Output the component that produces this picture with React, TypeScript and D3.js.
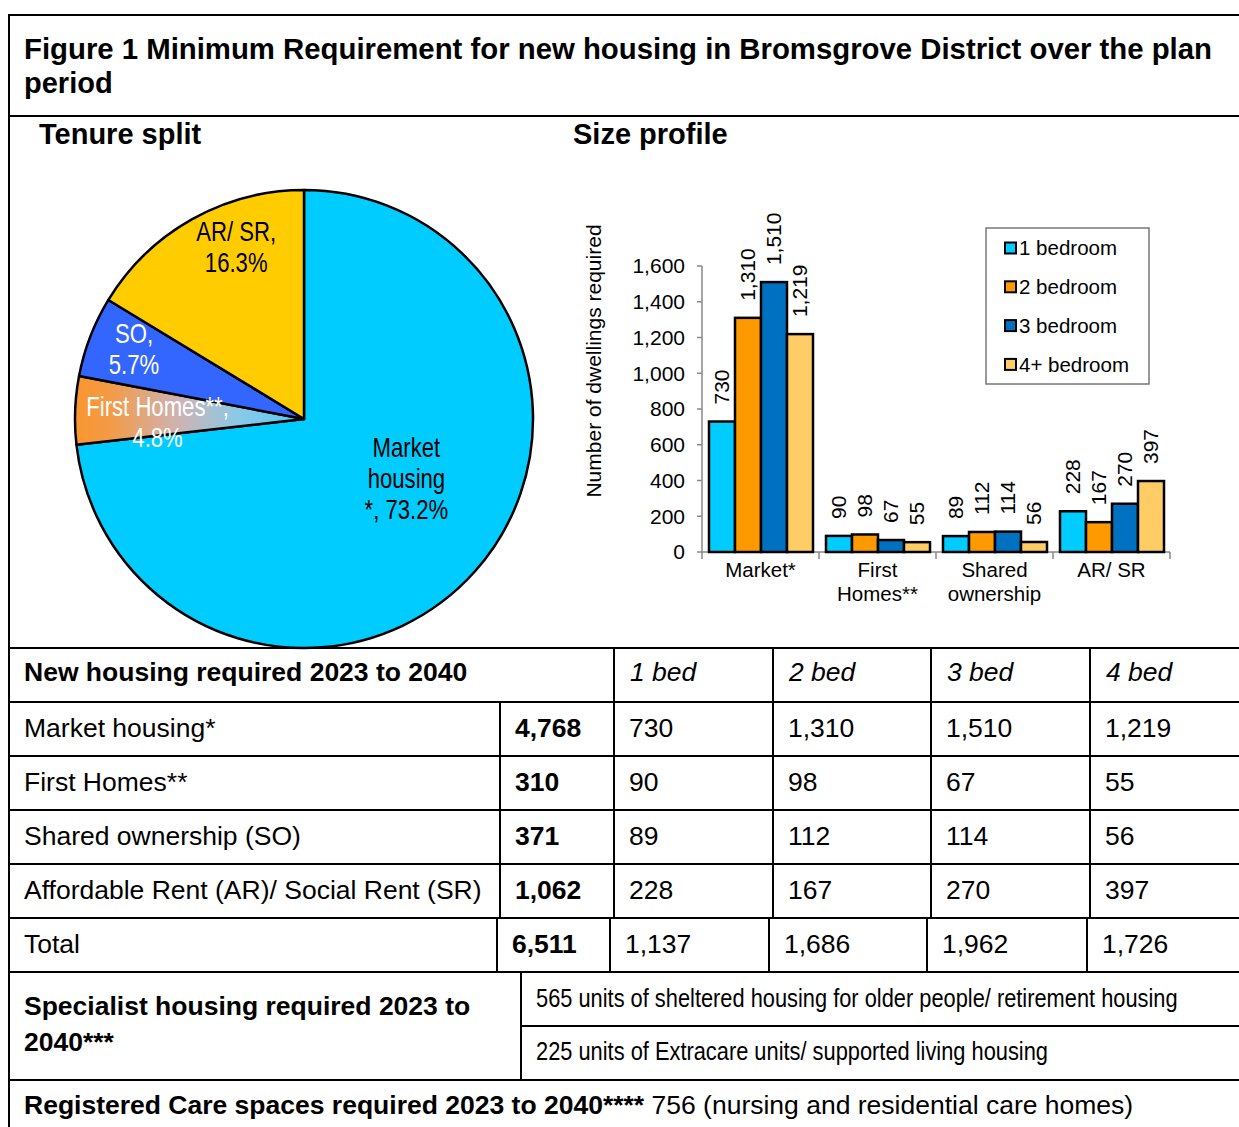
import React from "react";
import * as d3 from "d3";

// ---------- DATA ----------
const titleLine1 = "Figure 1 Minimum Requirement for new housing in Bromsgrove District over the plan";
const titleLine2 = "period";

const tenureNames = ["Market housing", "First Homes**", "SO", "AR/ SR"];
const tenureLabelLines = [["Market", "housing", "*, 73.2%"], ["First Homes**,", "4.8%"], ["SO,", "5.7%"], ["AR/ SR,", "16.3%"]];
const tenureShares = [73.2, 4.8, 5.7, 16.3];

const categories = ["Market*", "First Homes**", "Shared ownership", "AR/ SR"];
const categoryLines = [["Market*"], ["First", "Homes**"], ["Shared", "ownership"], ["AR/ SR"]];
const seriesNames = ["1 bedroom", "2 bedroom", "3 bedroom", "4+ bedroom"];
const oneBed = [730, 90, 89, 228];
const twoBed = [1310, 98, 112, 167];
const threeBed = [1510, 67, 114, 270];
const fourBed = [1219, 55, 56, 397];
const yTicks = [0, 200, 400, 600, 800, 1000, 1200, 1400, 1600];

const tableHeader = "New housing required 2023 to 2040";
const bedHeaders = ["1 bed", "2 bed", "3 bed", "4 bed"];
const rowLabels = ["Market housing*", "First Homes**", "Shared ownership (SO)", "Affordable Rent (AR)/ Social Rent (SR)"];
const rowTotals = ["4,768", "310", "371", "1,062"];
const rowValues = [
  ["730", "1,310", "1,510", "1,219"],
  ["90", "98", "67", "55"],
  ["89", "112", "114", "56"],
  ["228", "167", "270", "397"],
];
const totalLabel = "Total";
const grandTotal = "6,511";
const bedTotals = ["1,137", "1,686", "1,962", "1,726"];
const specialistLabel = ["Specialist housing required 2023 to", "2040***"];
const specialistItems = [
  "565 units of sheltered housing for older people/ retirement housing",
  "225 units of Extracare units/ supported living housing",
];
const careBold = "Registered Care spaces required 2023 to 2040****";
const careText = " 756 (nursing and residential care homes)";

// ---------- STYLE ----------
const W = 1239;
const H = 1127;
const FONT = "'Liberation Sans', Arial, sans-serif";
const pieColors = ["#00CCFF", "url(#fhGrad)", "#3366FF", "#FFCC00"];
const pieTextColors = ["#000", "#fff", "#fff", "#000"];
const barColors = ["#00CCFF", "#FF9900", "#0070C0", "#FFCC66"];

export default function App() {
  // Pie
  const cx = 304, cy = 419, R = 229;
  const pie = d3.pie<number>().sort(null).value((d) => d)(tenureShares);
  const arc = d3.arc<d3.PieArcDatum<number>>().innerRadius(0).outerRadius(R);
  const labelOffsets = [
    { r: 0.5, dx: 17, dy: -17 },
    { r: 0.64, dx: 0, dy: 9 },
    { r: 0.8, dx: 1, dy: -4 },
    { r: 0.8, dx: 22, dy: -12 },
  ];

  // Bars
  const series = [oneBed, twoBed, threeBed, fourBed];
  const x0 = d3.scaleBand<string>().domain(categories).range([702, 1170]).padding(0);
  const x1 = d3.scaleBand<string>().domain(seriesNames).range([7, x0.bandwidth() - 6]).padding(0);
  const y = d3.scaleLinear().domain([0, 1600]).range([552, 266]);

  // Table geometry
  const rowTops = [648, 702, 756, 810, 864, 918, 972];
  const colX = [614, 773, 931, 1090];
  const totalColX = [610, 769, 927, 1087];
  const fmt = d3.format(",");

  const line = (x1_: number, y1_: number, x2_: number, y2_: number, key: string) => (
    <line key={key} x1={x1_} y1={y1_} x2={x2_} y2={y2_} stroke="#000" strokeWidth={2} />
  );

  return (
    <div style={{ position: "absolute", left: 0, top: 0, width: W, height: H, background: "#fff" }}>
      <svg width={W} height={H} style={{ display: "block", fontFamily: FONT }}>
        <defs>
          <linearGradient id="fhGrad" gradientUnits="userSpaceOnUse" x1={-227} y1={0} x2={0} y2={0}>
            <stop offset="0" stopColor="#F99630" />
            <stop offset="0.14" stopColor="#F49A45" />
            <stop offset="0.45" stopColor="#CDB3B4" />
            <stop offset="0.72" stopColor="#88CAE8" />
            <stop offset="1" stopColor="#55C6F4" />
          </linearGradient>
        </defs>
        <rect x={0} y={0} width={W} height={H} fill="#fff" />

        {/* Frame */}
        {line(9, 15, W, 15, "top")}
        {line(9, 14, 9, H, "left")}
        {line(9, 116, W, 116, "titleDiv")}

        <text x={24} y={59} fontSize={29} fontWeight="bold" textLength={1188} lengthAdjust="spacingAndGlyphs">{titleLine1}</text>
        <text x={24} y={93} fontSize={29} fontWeight="bold">{titleLine2}</text>

        <text x={39} y={144} fontSize={29} fontWeight="bold">Tenure split</text>
        <text x={573} y={144} fontSize={29} fontWeight="bold">Size profile</text>

        {/* Pie */}
        <g transform={`translate(${cx},${cy})`}>
          {pie.map((p, i) => (
            <path key={tenureNames[i]} d={arc(p) || ""} fill={pieColors[i]} stroke="#000" strokeWidth={2.5} strokeLinejoin="round" />
          ))}
          {pie.map((p, i) => {
            const o = labelOffsets[i];
            const la = d3.arc<d3.PieArcDatum<number>>().innerRadius(R * o.r).outerRadius(R * o.r);
            const [lx, ly] = la.centroid(p);
            const lines = tenureLabelLines[i];
            const lh = 31;
            const startY = ly + o.dy - ((lines.length - 1) * lh) / 2;
            return (
              <g key={"lab" + i} transform={`translate(${lx + o.dx},${startY})`}>
                {lines.map((t, j) => (
                  <text key={j} x={0} y={j * lh} transform="scale(0.82,1)" textAnchor="middle" dy="0.35em" fontSize={27} fill={pieTextColors[i]}>
                    {t}
                  </text>
                ))}
              </g>
            );
          })}
        </g>

        {/* Bar chart */}
        <text transform="translate(594,361) rotate(-90)" textAnchor="middle" dy="0.35em" fontSize={21}>Number of dwellings required</text>
        <line x1={702} y1={y(1600)} x2={702} y2={y(0)} stroke="#888" strokeWidth={1.5} />
        {yTicks.map((t) => (
          <g key={"yt" + t}>
            <line x1={697} x2={702} y1={y(t)} y2={y(t)} stroke="#888" strokeWidth={1.5} />
            <text x={685} y={y(t)} dy="0.35em" textAnchor="end" fontSize={21}>{fmt(t)}</text>
          </g>
        ))}
        <line x1={702} y1={y(0)} x2={1170} y2={y(0)} stroke="#888" strokeWidth={1.5} />
        {[...categories.map((c) => x0(c) as number), 1170].map((xv, i) => (
          <line key={"ct" + i} x1={xv} x2={xv} y1={y(0)} y2={y(0) + 7} stroke="#888" strokeWidth={1.5} />
        ))}
        {categories.map((c, ci) => (
          <g key={c} transform={`translate(${x0(c)},0)`}>
            {seriesNames.map((s, si) => {
              const v = series[si][ci];
              const bx = x1(s) as number;
              const bw = x1.bandwidth();
              return (
                <g key={s}>
                  <rect x={bx} y={y(v)} width={bw} height={y(0) - y(v)} fill={barColors[si]} stroke="#000" strokeWidth={2.5} />
                  <text transform={`translate(${bx + bw / 2},${y(v) - 17}) rotate(-90)`} dy="0.35em" fontSize={21}>{fmt(v)}</text>
                </g>
              );
            })}
            {categoryLines[ci].map((t, j) => (
              <text key={j} x={x0.bandwidth() / 2} y={577 + j * 24} textAnchor="middle" fontSize={20.5}>{t}</text>
            ))}
          </g>
        ))}

        {/* Legend */}
        <rect x={986} y={228} width={163} height={156} fill="#fff" stroke="#777" strokeWidth={1.5} />
        {seriesNames.map((s, i) => {
          const ly = 248 + i * 38.8;
          return (
            <g key={"lg" + s}>
              <rect x={1005} y={ly - 5.5} width={11} height={11} fill={barColors[i]} stroke="#000" strokeWidth={2} />
              <text x={1019} y={ly} dy="0.35em" fontSize={20.5}>{s}</text>
            </g>
          );
        })}

        {/* Table */}
        {rowTops.map((t, i) => line(9, t, W, t, "h" + i))}
        {line(9, 1080, W, 1080, "h1080")}
        {line(521, 1026, W, 1026, "h1026")}
        {colX.map((xv, i) => line(xv, 648, xv, 918, "v" + i))}
        {line(500, 702, 500, 918, "vtot")}
        {line(497, 918, 497, 972, "vt0")}
        {totalColX.map((xv, i) => line(xv, 918, xv, 972, "vt" + (i + 1)))}
        {line(521, 972, 521, 1080, "vspec")}

        <text x={24} y={681} fontSize={26.5} fontWeight="bold">{tableHeader}</text>
        {bedHeaders.map((b, i) => (
          <text key={b} x={colX[i] + 16} y={681} fontSize={26.5} fontStyle="italic">{b}</text>
        ))}
        {rowLabels.map((lab, r) => {
          const by = rowTops[r + 1] + 35;
          return (
            <g key={lab}>
              <text x={24} y={by} fontSize={26.5}>{lab}</text>
              <text x={515} y={by} fontSize={26.5} fontWeight="bold">{rowTotals[r]}</text>
              {rowValues[r].map((v, c) => (
                <text key={c} x={colX[c] + 15} y={by} fontSize={26.5}>{v}</text>
              ))}
            </g>
          );
        })}
        <text x={24} y={953} fontSize={26.5}>{totalLabel}</text>
        <text x={512} y={953} fontSize={26.5} fontWeight="bold">{grandTotal}</text>
        {bedTotals.map((v, c) => (
          <text key={"bt" + c} x={totalColX[c] + 15} y={953} fontSize={26.5}>{v}</text>
        ))}

        <text x={24} y={1015} fontSize={26.5} fontWeight="bold">{specialistLabel[0]}</text>
        <text x={24} y={1051} fontSize={26.5} fontWeight="bold">{specialistLabel[1]}</text>
        <g transform="translate(536,1007) scale(0.8,1)">
          <text x={0} y={0} fontSize={26} textLength={802} lengthAdjust="spacingAndGlyphs">{specialistItems[0]}</text>
        </g>
        <g transform="translate(536,1060) scale(0.8,1)">
          <text x={0} y={0} fontSize={26} textLength={640} lengthAdjust="spacingAndGlyphs">{specialistItems[1]}</text>
        </g>

        <text x={24} y={1114} fontSize={26.5}>
          <tspan fontWeight="bold">{careBold}</tspan>
          <tspan>{careText}</tspan>
        </text>
      </svg>
    </div>
  );
}
